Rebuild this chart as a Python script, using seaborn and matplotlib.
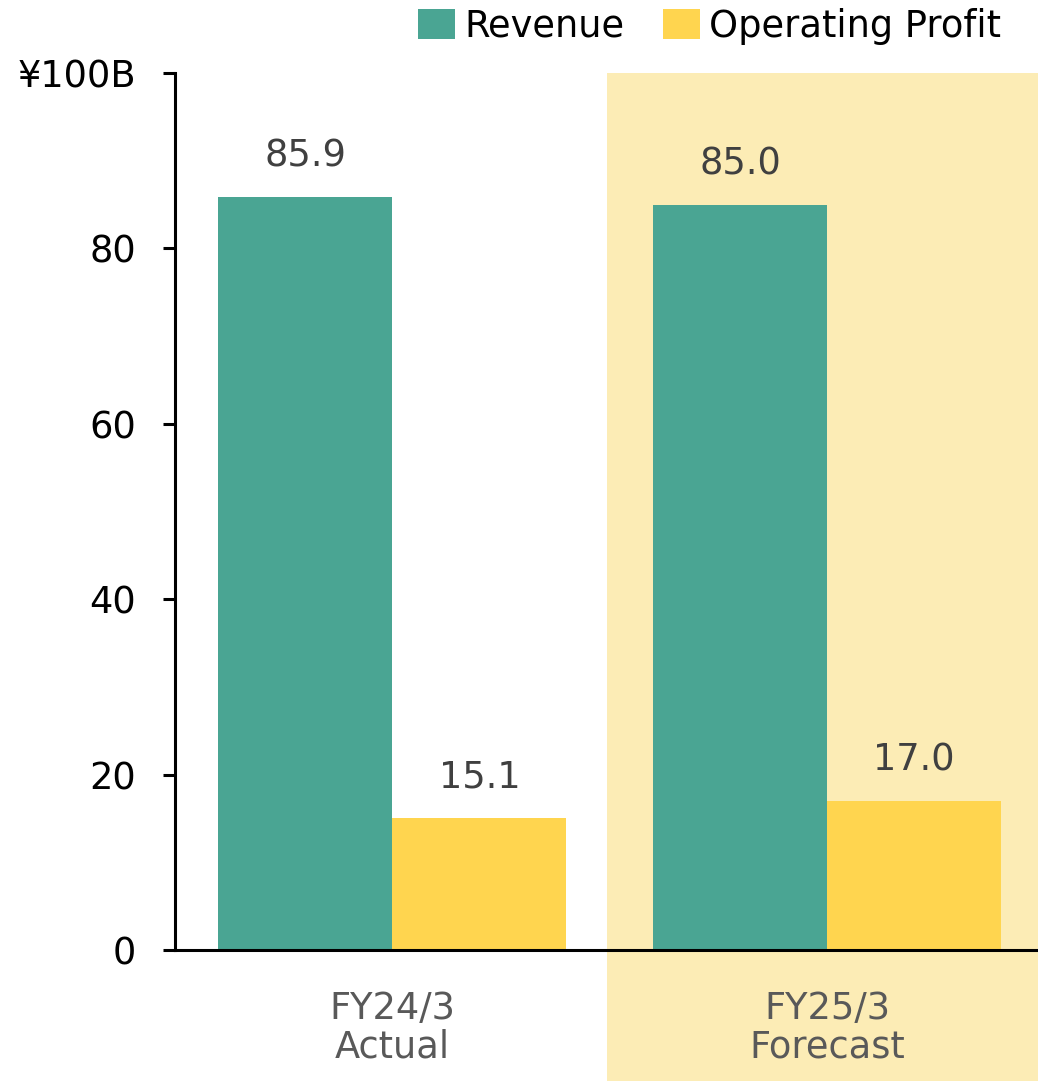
import matplotlib
matplotlib.use("Agg")
import matplotlib.pyplot as plt
import matplotlib.transforms as mtransforms
from matplotlib.patches import Rectangle
import seaborn as sns
import pandas as pd

categories = ["FY24/3\nActual", "FY25/3\nForecast"]
series_names = ["Revenue", "Operating Profit"]
revenue = [85.9, 85.0]
operating_profit = [15.1, 17.0]
y_ticks = [0, 20, 40, 60, 80, 100]
y_tick_labels = ["0", "20", "40", "60", "80", "¥100B"]

colors = {"Revenue": "#4AA593", "Operating Profit": "#FFD54F"}
highlight_color = "#FCECB5"

df = pd.DataFrame({
    "category": categories * 2,
    "series": [series_names[0]] * len(categories) + [series_names[1]] * len(categories),
    "value": revenue + operating_profit,
})

sns.set_theme(style="white")
plt.rcParams["font.family"] = ["DejaVu Sans"]

FS = 26.5
W, H = 1038, 1081
fig = plt.figure(figsize=(W / 100, H / 100), dpi=100)
ax = fig.add_axes([175 / W, (H - 950) / H, 1 - 175 / W, (950 - 73) / H])
ax.set_zorder(2)

sns.barplot(data=df, x="category", y="value", hue="series", order=categories,
            hue_order=series_names, palette=colors, saturation=1, width=0.8,
            gap=0, linewidth=0, ax=ax, legend=True, zorder=3)

ax.set_xlim(-0.5, 1.485)
ax.set_ylim(0, 100)

# highlight forecast period (extends below axes over tick labels)
trans = mtransforms.blended_transform_factory(ax.transData, fig.transFigure)
rect = Rectangle((0.493, 0), 2.0, (H - 73) / H, transform=trans,
                 facecolor=highlight_color, edgecolor="none", zorder=-5, clip_on=False)
fig.patches.append(rect)
ax.patch.set_alpha(0)

for c in ax.containers:
    ax.bar_label(c, labels=[f"{v:.1f}" for v in c.datavalues], padding=16,
                 fontsize=FS, color="#404040")

ax.set_yticks(y_ticks)
ax.set_yticklabels(y_tick_labels)
ax.tick_params(axis="y", which="major", direction="out", length=9, width=2.2,
               pad=19, labelsize=FS, colors="black", left=True)
ax.tick_params(axis="x", length=0, pad=29, labelsize=FS, labelcolor="#595959")
for lbl in ax.get_xticklabels():
    lbl.set_linespacing(1.05)

ax.set_xlabel("")
ax.set_ylabel("")
for s in ["top", "right"]:
    ax.spines[s].set_visible(False)
for s in ["left", "bottom"]:
    ax.spines[s].set_color("black")
    ax.spines[s].set_linewidth(2.2)
    ax.spines[s].set_zorder(5)
ax.grid(False)

handles, labels = ax.get_legend_handles_labels()
ax.legend(handles, labels, loc="upper right", bbox_to_anchor=(1003 / W, 1 - 6 / H),
          bbox_transform=fig.transFigure, ncol=2, frameon=False, fontsize=FS,
          handlelength=1.0, handleheight=0.88, handletextpad=0.25,
          columnspacing=1.05, borderaxespad=0, borderpad=0.05, labelcolor="black")

fig.savefig("out.png", dpi=100)
